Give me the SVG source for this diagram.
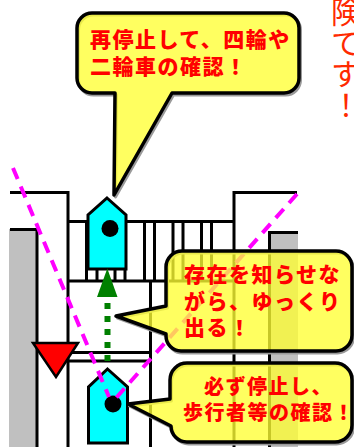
<svg xmlns="http://www.w3.org/2000/svg" width="354" height="447" viewBox="0 0 354 447">
  <style>
    .road { fill: none; stroke: #000; stroke-width: 3; }
    .curb { fill: #c0c0c0; }
    .car { fill: #00ffff; stroke: #000; stroke-width: 3; stroke-linejoin: miter; }
    .dot { fill: #000; }
    .sight { fill: none; stroke: #ff00ff; stroke-width: 4; stroke-dasharray: 12 8; }
    .bubble { fill: #ffff33; fill-opacity: 0.78; stroke: #000; stroke-width: 3.5; stroke-linejoin: round; }
    .shadow { fill: none; stroke: #9a9a9a; stroke-width: 3; stroke-linejoin: round; }
    .say { font-family: "Noto Sans CJK JP", "Noto Sans", sans-serif; font-weight: 900; fill: #ff0000; letter-spacing: 1.5px; }
    .warn { font-family: "Noto Sans CJK JP", "Noto Sans", sans-serif; font-weight: 400; font-size: 30px; fill: #ff2a00;
            writing-mode: vertical-rl; text-orientation: upright; letter-spacing: 1px; }
  </style>

  <rect width="354" height="447" fill="#fff"/>

  <!-- road layout -->
  <g id="road">
    <rect class="curb" x="9" y="229" width="28.5" height="218"/>
    <rect class="curb" x="269.5" y="232" width="28.5" height="215"/>
    <path class="road" d="M10,229.5 H38 M37,229 V447"/>
    <path class="road" d="M269.5,447 V232.5 H298"/>
    <path class="road" d="M10,192.5 H68 V447"/>
    <path class="road" d="M234,447 V192.5 H297"/>
    <path class="road" d="M68,221.5 H234 M68,281 H234"/>
    <!-- crosswalk stripes -->
    <path class="road" d="M86.5,221.5 V281 M97,221.5 V281 M115,221.5 V281 M125,221.5 V281 M144.5,221.5 V281 M154.5,221.5 V281 M173,221.5 V281 M183,221.5 V281 M201.5,221.5 V281 M211.5,221.5 V281"/>
    <path class="road" d="M150.5,281 V447"/>
    <!-- stop line -->
    <path class="road" d="M68,352.5 H150.5 M68,361 H150.5"/>
  </g>

  <!-- vehicles -->
  <g id="car-top">
    <polygon class="car" points="107,198 126,215 126,269 88,269 88,215"/>
    <circle class="dot" cx="110" cy="228.5" r="8.5"/>
  </g>
  <g id="car-bottom">
    <polygon class="car" points="107.5,369 127.5,387 127.5,443 88.5,443 88.5,387"/>
    <circle class="dot" cx="113" cy="404" r="8.5"/>
  </g>

  <!-- sight lines and movement arrow -->
  <g id="connectors">
    <line class="sight" x1="13" y1="168" x2="109" y2="397"/>
    <line class="sight" x1="297" y1="194" x2="116" y2="398"/>
    <line x1="107.5" y1="303" x2="107.5" y2="362" stroke="#008000" stroke-width="6" stroke-dasharray="6 7"/>
    <polygon points="107.3,268.5 97,297 117.5,297" fill="#008000"/>
  </g>

  <!-- yield marker -->
  <g id="yield">
    <polygon points="33,343 78,343 56,377" fill="#ff0000" stroke="#000" stroke-width="2.5" stroke-linejoin="miter"/>
  </g>

  <!-- speech bubbles -->
  <g id="bubble-top">
    <path class="shadow" transform="translate(1.5,2)" d="M92,13 H284 A15,15 0 0 1 299,28 V78 A15,15 0 0 1 284,93 H172 L114,195 L115,93 H92 A15,15 0 0 1 77,78 V28 A15,15 0 0 1 92,13 Z"/>
    <path class="bubble" d="M92,13 H284 A15,15 0 0 1 299,28 V78 A15,15 0 0 1 284,93 H172 L114,195 L115,93 H92 A15,15 0 0 1 77,78 V28 A15,15 0 0 1 92,13 Z"/>
    <text class="say" font-size="21" x="90" y="47">再停止して、四輪や</text>
    <text class="say" font-size="21" x="90" y="74">二輪車の確認！</text>
  </g>

  <g id="bubble-middle">
    <path class="shadow" transform="translate(1.5,2)" d="M182,251 H336 A16,16 0 0 1 352,267 V335 A16,16 0 0 1 336,351 H181 A15,15 0 0 1 166,336 V334 L116,316 L166,306 V267 A16,16 0 0 1 182,251 Z"/>
    <path class="bubble" d="M182,251 H336 A16,16 0 0 1 352,267 V335 A16,16 0 0 1 336,351 H181 A15,15 0 0 1 166,336 V334 L116,316 L166,306 V267 A16,16 0 0 1 182,251 Z"/>
    <text class="say" font-size="21" x="184" y="282">存在を知らせな</text>
    <text class="say" font-size="21" x="184" y="309">がら、ゆっくり</text>
    <text class="say" font-size="21" x="184" y="335">出る！</text>
  </g>

  <g id="bubble-bottom">
    <path class="shadow" transform="translate(1.5,2)" d="M187,363 H335 A17,17 0 0 1 352,380 V425 A17,17 0 0 1 335,442 H187 A16,16 0 0 1 171,426 L128,404 L170,399 V380 A17,17 0 0 1 187,363 Z"/>
    <path class="bubble" d="M187,363 H335 A17,17 0 0 1 352,380 V425 A17,17 0 0 1 335,442 H187 A16,16 0 0 1 171,426 L128,404 L170,399 V380 A17,17 0 0 1 187,363 Z"/>
    <text class="say" font-size="20" x="204" y="394">必ず停止し、</text>
    <text class="say" font-size="20" x="183" y="420">歩行者等の確認！</text>
  </g>

  <!-- warning column at the right edge, set vertically -->
  <g id="warning">
    <text class="warn" x="346" y="-3">険てす！</text>
  </g>
</svg>
